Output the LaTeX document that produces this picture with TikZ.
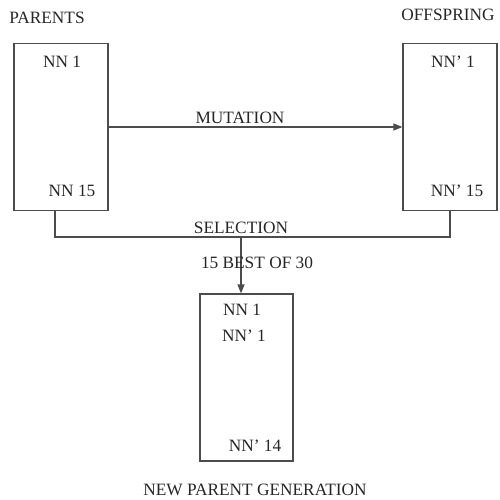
\documentclass[tikz,border=0pt]{standalone}
\usepackage{fontspec}
\setmainfont{Liberation Serif}
\usetikzlibrary{arrows.meta, positioning, calc}

\begin{document}
\begin{tikzpicture}[
    x=1pt, y=-1pt,
    netbox/.style={rectangle, draw=black!70, line width=1.2pt, minimum width=94pt, minimum height=167pt, inner sep=0pt},
    label/.style={font=\fontsize{17.3}{20}\selectfont, inner sep=0pt, text=black!85},
    link/.style={draw=black!70, line width=1.2pt},
    arrow/.style={link, -{Triangle[length=9pt, width=7pt]}}
]
    \useasboundingbox (0,0) rectangle (499,500);

    % Population boxes
    \node[netbox] (parents) at (61,127) {};
    \node[netbox] (offspring) at (450,127) {};
    \node[netbox, minimum width=93pt] (newgen) at (246.5,377.5) {};

    % Titles
    \node[label] (partitle) at (47,18) {PARENTS};
    \node[label] (offtitle) at (448,15) {OFFSPRING};
    \node[label] (newtitle) at (255,490) {NEW PARENT GENERATION};

    % Box contents
    \node[label] (p1) at (62,62) {NN 1};
    \node[label] (p15) at (72,191) {NN 15};
    \node[label] (o1) at (453,62) {NN' 1};
    \node[label] (o15) at (457,191) {NN' 15};
    \node[label] (n1) at (242,310) {NN 1};
    \node[label] (n1b) at (244,336) {NN' 1};
    \node[label] (n14) at (255,446) {NN' 14};

    % Mutation
    \draw[arrow] (parents.east) -- (offspring.west);
    \node[label] (mutlabel) at (240,118) {MUTATION};

    % Selection
    \coordinate (join) at (241,237);
    \draw[link] ([xshift=-6pt]parents.south) |- (join) -| (offspring.south);
    \draw[arrow] (join) -- (newgen.north -| join);
    \node[label] (sellabel) at (241,228) {SELECTION};
    \node[label] (bestlabel) at (257,263) {15 BEST OF 30};
\end{tikzpicture}
\end{document}
